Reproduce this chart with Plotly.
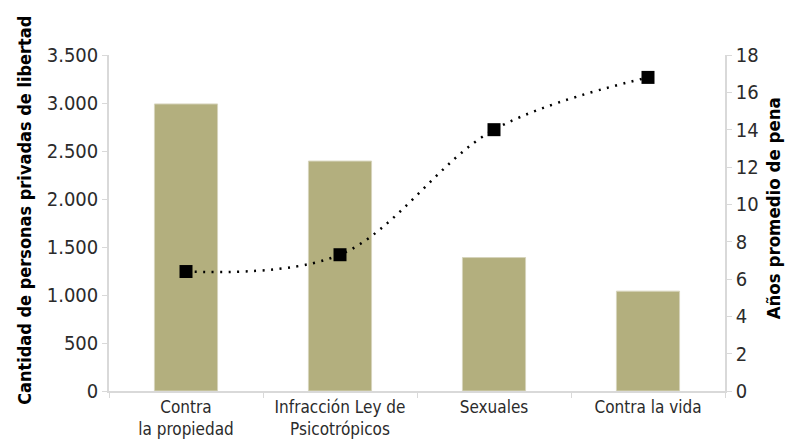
import plotly.graph_objects as go

categories = ["Contra<br>la propiedad", "Infracción Ley de<br>Psicotrópicos", "Sexuales", "Contra la vida"]
personas = [2990, 2395, 1390, 1040]
anios_pena = [6.4, 7.3, 14.0, 16.8]
left_ticks = [0, 500, 1000, 1500, 2000, 2500, 3000, 3500]
left_tick_text = ["0", "500", "1.000", "1.500", "2.000", "2.500", "3.000", "3.500"]
right_ticks = list(range(0, 19, 2))
left_title = "Cantidad de personas privadas de libertad"
right_title = "Años promedio de pena"

FONT = "DejaVu Sans Condensed, Roboto, sans-serif"
AXIS_COLOR = "#d9d9d9"
TEXT_COLOR = "#2b2b2b"

fig = go.Figure()
fig.add_trace(go.Bar(
    x=categories, y=personas, width=0.41,
    marker=dict(color="#b3af7e", line=dict(color="#d6d4bb", width=1)),
    yaxis="y",
))
fig.add_trace(go.Scatter(
    x=categories, y=anios_pena, yaxis="y2", mode="lines+markers",
    line=dict(color="black", width=2.5, dash="2px,6.5px", shape="spline", smoothing=1),
    marker=dict(symbol="square", size=13, color="black"),
))

# axis titles placed as rotated annotations
fig.add_annotation(text=f"<b>{left_title}</b>", xref="paper", yref="paper",
                   x=-0.1364, y=0.539, xanchor="center", yanchor="middle",
                   textangle=-90, showarrow=False,
                   font=dict(family=FONT, size=18, color="black"))
fig.add_annotation(text=f"<b>{right_title}</b>", xref="paper", yref="paper",
                   x=1.0787, y=0.545, xanchor="center", yanchor="middle",
                   textangle=-90, showarrow=False,
                   font=dict(family=FONT, size=18.5, color="black"))

fig.update_layout(
    width=786, height=443,
    margin=dict(l=109, r=61, t=55, b=52, autoexpand=False),
    plot_bgcolor="white", paper_bgcolor="white",
    showlegend=False,
    font=dict(family=FONT, size=17, color=TEXT_COLOR),
    xaxis=dict(
        automargin=False,
        showline=True, linecolor=AXIS_COLOR, linewidth=1.5,
        ticks="outside", tickson="boundaries", ticklen=5, tickcolor=AXIS_COLOR,
        tickfont=dict(family=FONT, size=17, color=TEXT_COLOR),
    ),
    yaxis=dict(
        automargin=False,
        range=[0, 3500], tickvals=left_ticks, ticktext=left_tick_text,
        showgrid=False, zeroline=False, showline=True, linecolor=AXIS_COLOR, linewidth=1.5,
        ticks="outside", ticklen=5, tickcolor=AXIS_COLOR,
        tickfont=dict(family=FONT, size=20, color=TEXT_COLOR),
    ),
    yaxis2=dict(
        automargin=False,
        range=[0, 18], tickvals=right_ticks, overlaying="y", side="right",
        showgrid=False, zeroline=False, showline=True, linecolor=AXIS_COLOR, linewidth=1.5,
        ticks="outside", ticklen=5, tickcolor=AXIS_COLOR,
        tickfont=dict(family=FONT, size=20, color=TEXT_COLOR),
    ),
)

fig.write_html("out.html")
